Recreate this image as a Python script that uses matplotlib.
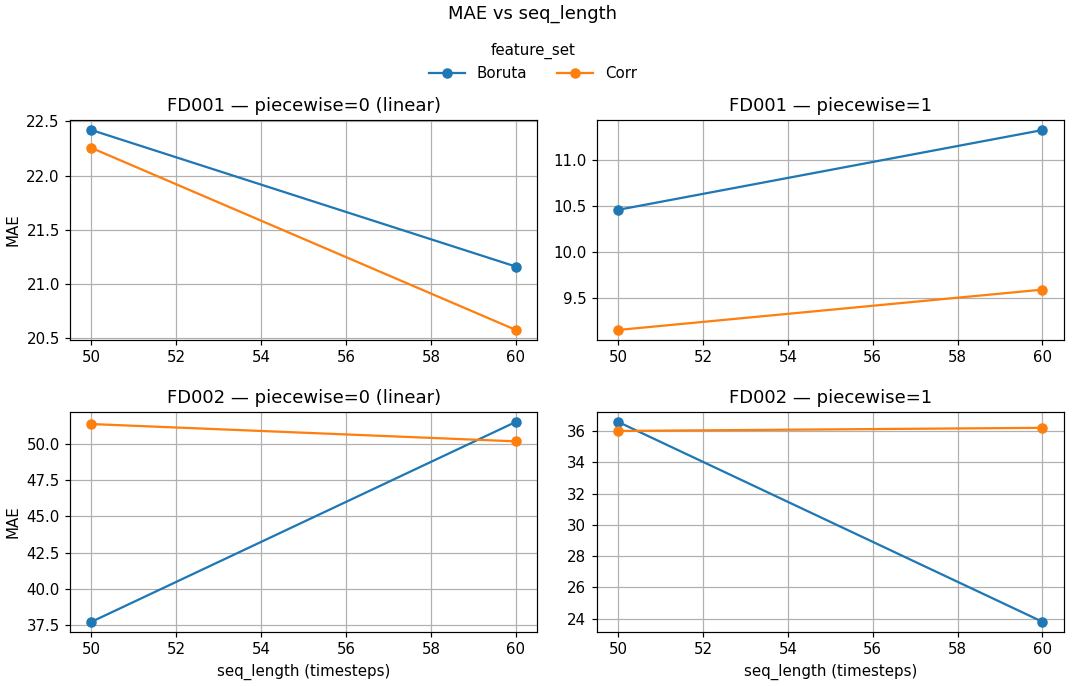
import matplotlib.pyplot as plt
from matplotlib.ticker import MultipleLocator

# MAE per seq_length for each dataset / piecewise setting
seq_lengths = [50, 60]
feature_sets = ["Boruta", "Corr"]
panel_titles = [
    "FD001 — piecewise=0 (linear)",
    "FD001 — piecewise=1",
    "FD002 — piecewise=0 (linear)",
    "FD002 — piecewise=1",
]
mae_boruta = [
    [22.42, 21.16],
    [10.46, 11.33],
    [37.70, 51.55],
    [36.58, 23.80],
]
mae_corr = [
    [22.255, 20.575],
    [9.15, 9.59],
    [51.40, 50.20],
    [36.00, 36.20],
]

DPI = 108
fig, axes = plt.subplots(2, 2, figsize=(1081 / DPI, 686 / DPI), dpi=DPI)
fig.subplots_adjust(left=0.065, right=0.984, top=0.825, bottom=0.079,
                    wspace=0.128, hspace=0.327)

for i, ax in enumerate(axes.flat):
    ax.plot(seq_lengths, mae_boruta[i], marker="o", label=feature_sets[0])
    ax.plot(seq_lengths, mae_corr[i], marker="o", label=feature_sets[1])
    ax.set_title(panel_titles[i])
    ax.grid(True)
    if i % 2 == 0:
        ax.set_ylabel("MAE")
    if i >= 2:
        ax.set_xlabel("seq_length (timesteps)")

axes[1, 1].yaxis.set_major_locator(MultipleLocator(2))

handles, labels = axes[0, 0].get_legend_handles_labels()
fig.legend(handles, labels, title="feature_set", loc="upper center",
           bbox_to_anchor=(0.493, 0.958), ncol=2, frameon=False,
           handlelength=2.4)
fig.suptitle("MAE vs seq_length", x=0.493, y=0.993)

plt.savefig("out.png", dpi=DPI)
